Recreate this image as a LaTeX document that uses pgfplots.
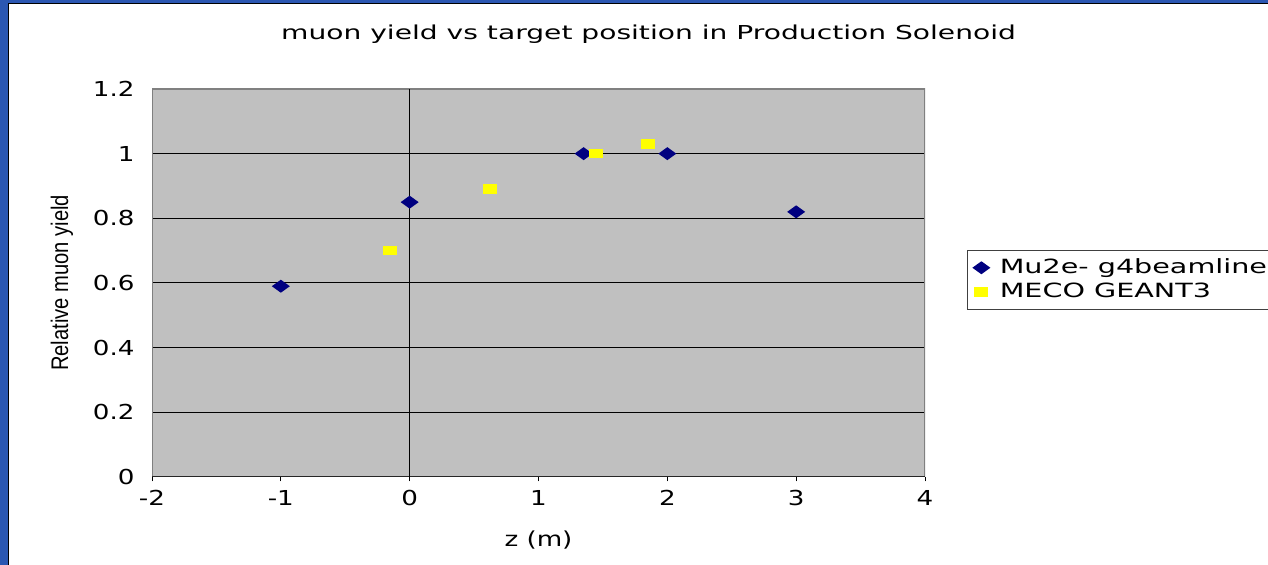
\documentclass[border=0pt]{standalone}
\usepackage{fontspec}
\usepackage{pgfplots}
\pgfplotsset{compat=1.18}
\setmainfont{DejaVu Sans}
\newfontfamily\tickf[FakeStretch=1.27]{DejaVu Sans}
\newfontfamily\titlef[FakeStretch=1.465]{DejaVu Sans}
\newfontfamily\legf[FakeStretch=1.46]{DejaVu Sans}
\newfontfamily\ylabf[FakeStretch=0.84]{Liberation Sans}
\definecolor{frameblue}{RGB}{43,87,178}
\definecolor{plotgray}{RGB}{192,192,192}
\definecolor{edgegray}{RGB}{128,128,128}
\definecolor{navyc}{RGB}{0,0,128}
\definecolor{yel}{RGB}{255,255,0}
\pgfdeclareplotmark{xdiam}{%
  \pgfpathmoveto{\pgfqpoint{0pt}{3.25pt}}%
  \pgfpathlineto{\pgfqpoint{4.5pt}{0pt}}%
  \pgfpathlineto{\pgfqpoint{0pt}{-3.25pt}}%
  \pgfpathlineto{\pgfqpoint{-4.5pt}{0pt}}%
  \pgfpathclose\pgfusepathqfill}
\pgfdeclareplotmark{yrect}{%
  \pgfpathrectangle{\pgfqpoint{-3.5pt}{-2.4pt}}{\pgfqpoint{7pt}{4.8pt}}%
  \pgfusepathqfill}
\begin{document}
\begin{tikzpicture}[x=1pt,y=1pt]
\fill[white] (0,0) rectangle (634,282.5);
\clip (0,0) rectangle (634,282.5);
\fill[frameblue] (0,281) rectangle (634,282.5);
\fill[frameblue] (0,0) rectangle (3.8,282.5);
\draw[black, line width=0.5pt] (4.05,0) -- (4.05,280.75) -- (634,280.75);
\begin{axis}[
  at={(76pt,44pt)}, anchor=south west,
  scale only axis, width=386.5pt, height=194pt,
  xmin=-2, xmax=4, ymin=0, ymax=1.2,
  xtick={-2,-1,0,1,2,3,4},
  ytick={0,0.2,0.4,0.6,0.8,1,1.2},
  /pgf/number format/assume math mode=true,
  axis background/.style={fill=plotgray},
  axis line style={draw=none},
  ymajorgrids, major grid style={black, line width=0.5pt},
  tick align=outside, xtick pos=left, ytick pos=left,
  major tick length=2.2pt,
  xtick style={black, line width=0.5pt},
  ytick style={draw=none},
  ticklabel style={font=\tickf\fontsize{10.3}{12}\selectfont},
  yticklabel style={xshift=-3pt},
  xticklabel style={yshift=-1pt},
  title={muon yield vs target position in Production Solenoid},
  title style={font=\titlef\fontsize{9.6}{11}\selectfont, at={(0.6423,1.111)}, anchor=center},
  xlabel={z (m)},
  xlabel style={font=\tickf\fontsize{10.3}{12}\selectfont, at={(0.5,-0.162)}, anchor=center},
  ylabel={Relative muon yield},
  ylabel style={font=\ylabf\fontsize{12}{13}\selectfont, at={(-0.1164,0.5)}, anchor=center, rotate=0},
  legend style={at={(1.0543,0.585)}, anchor=north west, draw=black!75, fill=white,
    font=\legf\fontsize{9.8}{11}\selectfont, inner xsep=2.5pt, inner ysep=3pt,
    row sep=0.8pt, column sep=3.5pt, nodes={inner sep=1.2pt}},
  legend cell align=left,
  legend image code/.code={\draw[#1] plot coordinates {(0pt,0pt)};},
]
\draw[edgegray, line width=1pt] (rel axis cs:0,0) -- (rel axis cs:0,1) -- (rel axis cs:1,1) -- (rel axis cs:1,0);
\draw[black!85, line width=0.7pt] (rel axis cs:0,0) -- (rel axis cs:1,0);
\draw[black, line width=0.5pt] (axis cs:0,0) -- (axis cs:0,1.2);
\addplot[only marks, mark=xdiam, color=navyc] coordinates {
  (-1,0.59) (0,0.85) (1.35,1.0) (2,1.0) (3,0.82)};
\addlegendentry{Mu2e- g4beamline}
\addplot[only marks, mark=yrect, color=yel] coordinates {
  (-0.15,0.70) (0.62,0.89) (1.45,1.0) (1.85,1.03)};
\addlegendentry{MECO GEANT3}
\end{axis}
\end{tikzpicture}
\end{document}
